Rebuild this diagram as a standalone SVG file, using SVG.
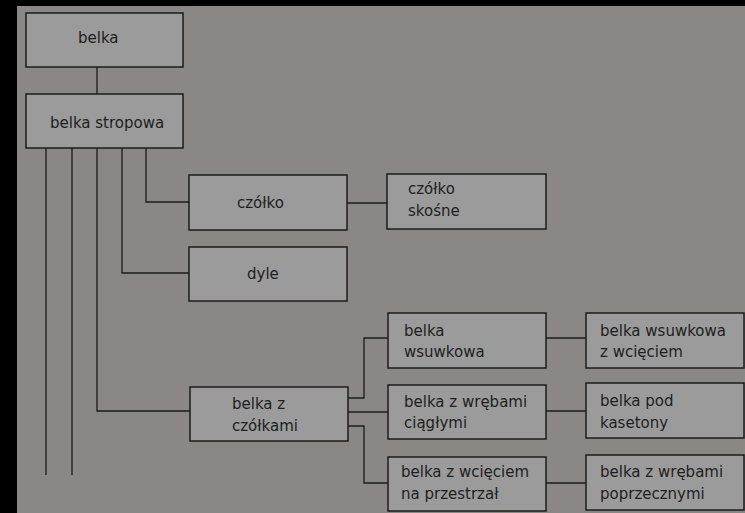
<svg xmlns="http://www.w3.org/2000/svg" width="745" height="513" viewBox="0 0 745 513">
<style>
.bx{fill:#9b9b9b;stroke:#1c1c1c;stroke-width:1.5}
.t{font-family:"DejaVu Sans",Verdana,sans-serif;font-size:15px;fill:#1e1e1e}
.c{fill:none;stroke:#1c1c1c;stroke-width:1.3}
</style>
<rect x="0" y="0" width="745" height="513" fill="#000"/>
<rect x="17" y="6" width="728" height="507" fill="#8b8786"/>
<g id="connectors">
<path class="c" d="M97 67V94"/>
<path class="c" d="M46 148V475M72 148V475"/>
<path class="c" d="M97 148V411H190"/>
<path class="c" d="M122 148V273H189"/>
<path class="c" d="M146 148V202H189"/>
<path class="c" d="M347 203H387"/>
<path class="c" d="M348 398H364V338H388"/>
<path class="c" d="M348 412H388"/>
<path class="c" d="M348 426H364V483H388"/>
<path class="c" d="M546 338H586"/>
<path class="c" d="M546 411H586"/>
<path class="c" d="M546 483H586"/>
</g>
<g id="belka"><rect class="bx" x="26" y="13" width="157" height="54"/><text class="t" x="78" y="43">belka</text></g>
<g id="belka-stropowa"><rect class="bx" x="26" y="94" width="157" height="54"/><text class="t" x="50" y="128">belka stropowa</text></g>
<g id="czolko"><rect class="bx" x="189" y="175" width="158" height="55"/><text class="t" x="237" y="208">czółko</text></g>
<g id="czolko-skosne"><rect class="bx" x="387" y="174" width="159" height="55"/><text class="t" x="408" y="194">czółko</text><text class="t" x="408" y="216">skośne</text></g>
<g id="dyle"><rect class="bx" x="189" y="247" width="158" height="54"/><text class="t" x="247" y="279">dyle</text></g>
<g id="belka-z-czolkami"><rect class="bx" x="190" y="387" width="158" height="54"/><text class="t" x="232" y="409">belka z</text><text class="t" x="232" y="431">czółkami</text></g>
<g id="belka-wsuwkowa"><rect class="bx" x="388" y="313" width="158" height="55"/><text class="t" x="404" y="336">belka</text><text class="t" x="404" y="357">wsuwkowa</text></g>
<g id="belka-wsuwkowa-z-wcieciem"><rect class="bx" x="586" y="313" width="158" height="55"/><text class="t" x="600" y="336">belka wsuwkowa</text><text class="t" x="600" y="357">z wcięciem</text></g>
<g id="belka-z-wrebami-ciaglymi"><rect class="bx" x="388" y="385" width="158" height="54"/><text class="t" x="404" y="407">belka z wrębami</text><text class="t" x="404" y="428">ciągłymi</text></g>
<g id="belka-pod-kasetony"><rect class="bx" x="586" y="383" width="158" height="55"/><text class="t" x="600" y="406">belka pod</text><text class="t" x="600" y="428">kasetony</text></g>
<g id="belka-z-wcieciem-na-przestrzal"><rect class="bx" x="388" y="457" width="158" height="54"/><text class="t" x="401" y="477">belka z wcięciem</text><text class="t" x="401" y="499">na przestrzał</text></g>
<g id="belka-z-wrebami-poprzecznymi"><rect class="bx" x="586" y="455" width="158" height="55"/><text class="t" x="600" y="477">belka z wrębami</text><text class="t" x="600" y="499">poprzecznymi</text></g>
</svg>
